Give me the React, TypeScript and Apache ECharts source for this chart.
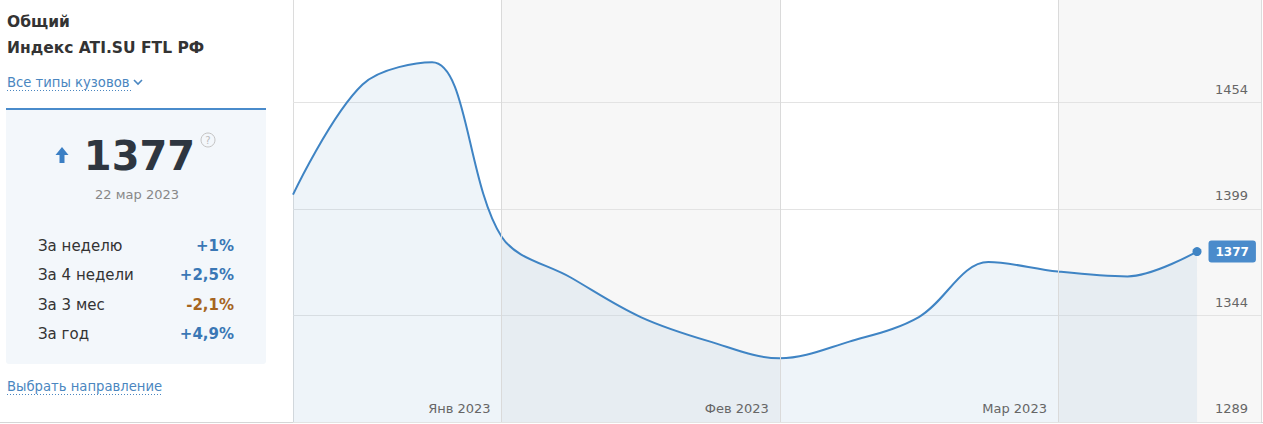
import React, { useEffect, useRef } from 'react';
import * as echarts from 'echarts';

// ---- data ----
const weekDates = [
  '21.12.2022', '28.12.2022', '04.01.2023', '11.01.2023', '18.01.2023', '25.01.2023', '01.02.2023',
  '08.02.2023', '15.02.2023', '22.02.2023', '01.03.2023', '08.03.2023', '15.03.2023', '22.03.2023',
];
const indexValues = [1406.4, 1463.3, 1474.8, 1384.7, 1363.5, 1343.2, 1330.5, 1321.9, 1330.5, 1343.2, 1371.6, 1366.7, 1364.2, 1377];
const monthLabels = ['Янв 2023', 'Фев 2023', 'Мар 2023'];
const monthStartIndex = [3, 7, 11];
const yTicks = [1289, 1344, 1399, 1454];
const periodLabels = ['За неделю', 'За 4 недели', 'За 3 мес', 'За год'];
const periodChanges = ['+1%', '+2,5%', '-2,1%', '+4,9%'];
const titleLines = ['Общий', 'Индекс ATI.SU FTL РФ'];
const bodyTypeLink = 'Все типы кузовов';
const directionLink = 'Выбрать направление';
const currentValue = '1377';
const currentDate = '22 мар 2023';

const FONT = '"DejaVu Sans", Verdana, sans-serif';
const BLUE = '#3f84c4';
const LINK = '#4a86c0';
const OY = 4; // chart div is shifted up by this many pixels

export default function App() {
  const ref = useRef<HTMLDivElement>(null);

  useEffect(() => {
    if (!ref.current) return;
    const chart = echarts.init(ref.current, undefined, { renderer: 'svg' });
    const xMax = 13.92;
    const last = indexValues.length - 1;

    const seriesData = indexValues.map((v, i) =>
      i === last
        ? {
            value: [i, v],
            name: weekDates[i],
            symbol: 'circle',
            symbolSize: 9,
            itemStyle: { color: BLUE },
            label: {
              show: true,
              position: 'right',
              distance: 7,
              formatter: String(Math.round(v)),
              color: '#fff',
              fontWeight: 'bold',
              fontSize: 12,
              fontFamily: FONT,
              backgroundColor: '#4a8bcb',
              borderRadius: 3,
              padding: [5, 7, 5, 7],
            },
          }
        : { value: [i, v], name: weekDates[i] }
    );

    const panel: any[] = [
      { type: 'rect', shape: { x: 6, y: 110, width: 260, height: 254, r: [0, 0, 3, 3] }, style: { fill: '#f3f7fb' } },
      { type: 'line', shape: { x1: 6, y1: 109, x2: 266, y2: 109 }, style: { stroke: '#4a8bcb', lineWidth: 2 } },
      { type: 'text', x: 7, y: 22, style: { text: titleLines[0], font: `bold 15.5px ${FONT}`, fill: '#333', verticalAlign: 'middle' } },
      { type: 'text', x: 7, y: 48, style: { text: titleLines[1], font: `bold 15.5px ${FONT}`, fill: '#333', verticalAlign: 'middle' } },
      { type: 'text', x: 7, y: 82, style: { text: bodyTypeLink, font: `13.2px ${FONT}`, fill: LINK, verticalAlign: 'middle' } },
      { type: 'line', shape: { x1: 7, y1: 90.5, x2: 131, y2: 90.5 }, style: { stroke: LINK, lineWidth: 1, lineDash: [1, 2] } },
      { type: 'polyline', shape: { points: [[134, 80], [138, 84], [142, 80]] }, style: { stroke: LINK, lineWidth: 1.6, fill: null } },
      { type: 'polygon', shape: { points: [[55.5, 155], [62, 147], [68.5, 155]] }, style: { fill: '#3b7fc4' } },
      { type: 'rect', shape: { x: 59.5, y: 154, width: 5, height: 9 }, style: { fill: '#3b7fc4' } },
      { type: 'text', x: 139.5, y: 156, style: { text: currentValue, font: `bold 40px ${FONT}`, fill: '#2e3640', align: 'center', verticalAlign: 'middle' } },
      { type: 'circle', shape: { cx: 208, cy: 140, r: 7 }, style: { stroke: '#c4c4c4', fill: 'none', lineWidth: 1 } },
      { type: 'text', x: 208, y: 140.5, style: { text: '?', font: `10px ${FONT}`, fill: '#bbb', align: 'center', verticalAlign: 'middle' } },
      { type: 'text', x: 137, y: 194, style: { text: currentDate, font: `13px ${FONT}`, fill: '#888', align: 'center', verticalAlign: 'middle' } },
      { type: 'text', x: 7, y: 386, style: { text: directionLink, font: `13.2px ${FONT}`, fill: LINK, verticalAlign: 'middle' } },
      { type: 'line', shape: { x1: 7, y1: 394.5, x2: 162, y2: 394.5 }, style: { stroke: LINK, lineWidth: 1, lineDash: [1, 2] } },
      { type: 'line', shape: { x1: 293.5, y1: 0, x2: 293.5, y2: 422 }, style: { stroke: '#dcdcdc', lineWidth: 1 } },
      { type: 'line', shape: { x1: 1261.5, y1: 0, x2: 1261.5, y2: 422 }, style: { stroke: '#dcdcdc', lineWidth: 1 } },
      { type: 'line', shape: { x1: 0, y1: 422.5, x2: 1263, y2: 422.5 }, style: { stroke: '#d6d6d6', lineWidth: 1 } },
    ];
    const rowYs = [246, 275, 305, 334];
    periodLabels.forEach((t, i) => {
      panel.push({ type: 'text', x: 38, y: rowYs[i], style: { text: t, font: `15px ${FONT}`, fill: '#333', verticalAlign: 'middle' } });
      const neg = periodChanges[i].startsWith('-');
      panel.push({
        type: 'text', x: 234, y: rowYs[i],
        style: { text: periodChanges[i], font: `bold 15px ${FONT}`, fill: neg ? '#a6651f' : '#3a77b5', align: 'right', verticalAlign: 'middle' },
      });
    });
    const panelGroup = { type: 'group', x: 0, y: OY, z: 10, children: panel };

    chart.setOption({
      animation: false,
      textStyle: { fontFamily: FONT },
      grid: { left: 293, right: 2, top: 0, bottom: 2, containLabel: false },
      xAxis: {
        type: 'value', min: 0, max: xMax,
        axisLine: { show: false }, axisTick: { show: false }, axisLabel: { show: false }, splitLine: { show: false },
      },
      yAxis: {
        type: 'value', min: 1289, max: 1509, interval: 55, position: 'right', z: 2,
        axisLine: { show: false }, axisTick: { show: false },
        axisLabel: {
          inside: true, margin: 13, color: '#666', fontSize: 13, fontFamily: FONT,
          verticalAlign: 'bottom', padding: [0, 0, 7, 0],
          formatter: (v: number) => (yTicks.includes(v) ? String(v) : ''),
        },
        splitLine: { lineStyle: { color: '#e3e3e3', width: 1 } },
      },
      series: [
        {
          type: 'line',
          z: 3,
          smooth: 0.35,
          symbol: 'none',
          data: seriesData,
          lineStyle: { color: BLUE, width: 2 },
          itemStyle: { color: BLUE },
          areaStyle: { color: 'rgba(160,190,220,0.25)', origin: 'start' },
          markArea: {
            silent: true,
            itemStyle: { color: '#f7f7f7' },
            data: [
              [{ xAxis: monthStartIndex[0] }, { xAxis: monthStartIndex[1] }],
              [{ xAxis: monthStartIndex[2] }, { xAxis: xMax }],
            ],
          },
          markLine: {
            silent: true,
            symbol: ['none', 'none'],
            label: { show: false },
            lineStyle: { color: '#dadada', type: 'solid', width: 1 },
            data: monthStartIndex.map((i) => ({ xAxis: i })),
          },
        },
      ],
      graphic: [panelGroup],
    });

    const monthTexts = monthStartIndex.map((idx, k) => {
      const p = chart.convertToPixel({ xAxisIndex: 0, yAxisIndex: 0 }, [idx, 1289]) as number[];
      return {
        type: 'text', x: p[0] - 11, y: p[1] - 14, z: 10,
        style: { text: monthLabels[k], font: `13px ${FONT}`, fill: '#666', align: 'right', verticalAlign: 'middle' },
      };
    });
    chart.setOption({ graphic: [panelGroup, ...monthTexts] });

    return () => chart.dispose();
  }, []);

  return (
    <div style={{ position: 'absolute', left: 0, top: 0, width: 1263, height: 424, overflow: 'hidden', background: '#fff' }}>
      <div ref={ref} style={{ position: 'absolute', left: 0, top: -OY, width: 1263, height: 424 + OY }} />
    </div>
  );
}
